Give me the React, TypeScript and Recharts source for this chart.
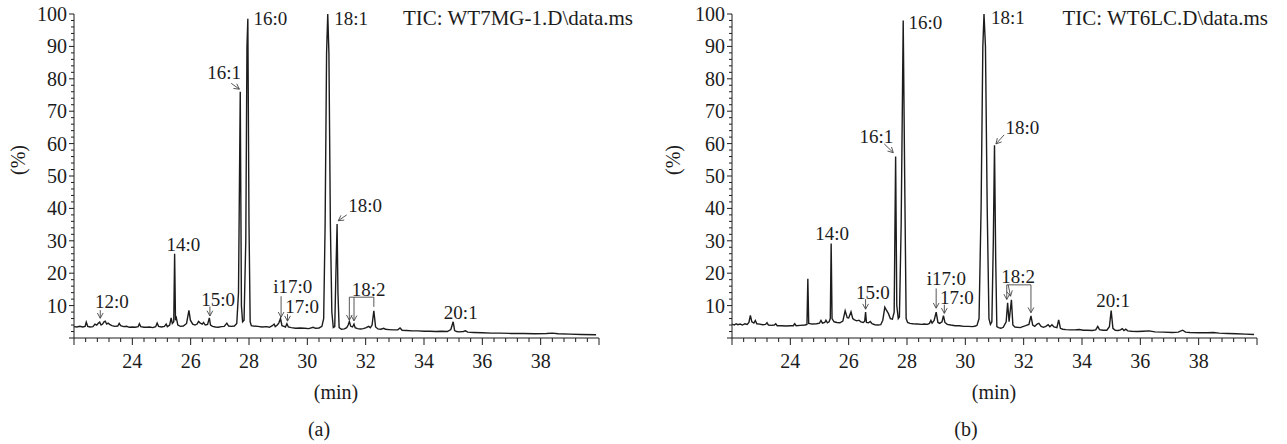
import React from 'react';
import { LineChart, Line, XAxis, YAxis, ReferenceLine, ReferenceDot } from 'recharts';

const FONT = '"Liberation Serif", "DejaVu Serif", "Noto Serif", "Nimbus Roman", "FreeSerif", Times, serif';
const INK = '#1c1c1c';

// (a) TIC: WT7MG-1.D — [retention time (min), abundance (%)]
const traceA: [number, number][] = [
  [22.0, 3.5], [22.1, 3.4], [22.2, 3.6], [22.3, 3.4], [22.38, 3.6], [22.42, 4.9], [22.47, 3.6], [22.55, 3.4],
  [22.65, 3.5], [22.72, 4.3], [22.78, 4.0], [22.84, 4.6], [22.88, 4.9], [22.93, 4.0], [22.98, 4.3], [23.03, 5.0],
  [23.07, 5.2], [23.12, 4.3], [23.17, 4.6], [23.22, 4.2], [23.3, 3.8], [23.4, 3.6], [23.5, 3.7], [23.55, 4.5],
  [23.6, 3.8], [23.7, 3.5], [23.8, 3.6], [23.9, 3.3], [24.0, 3.4], [24.1, 3.3], [24.2, 3.5], [24.24, 4.4],
  [24.29, 3.5], [24.4, 3.3], [24.5, 3.3], [24.6, 3.4], [24.7, 3.2], [24.8, 3.5], [24.85, 4.6], [24.9, 3.6],
  [25.0, 3.4], [25.1, 3.6], [25.16, 4.3], [25.2, 3.5], [25.28, 4.0], [25.33, 6.2], [25.37, 4.5], [25.42, 5.0],
  [25.45, 26], [25.48, 5.5], [25.51, 6.2], [25.56, 4.0], [25.65, 3.6], [25.75, 3.7], [25.86, 4.5], [25.94, 8.5],
  [25.99, 5.5], [26.07, 4.3], [26.15, 4.0], [26.22, 4.3], [26.27, 5.1], [26.33, 4.6], [26.4, 4.3], [26.44, 4.8],
  [26.5, 4.0], [26.58, 4.2], [26.64, 6.2], [26.68, 4.0], [26.75, 3.6], [26.85, 3.4], [26.95, 3.3], [27.05, 3.5],
  [27.15, 3.6], [27.24, 4.6], [27.3, 3.7], [27.4, 3.6], [27.5, 3.7], [27.58, 4.5], [27.64, 14], [27.7, 76],
  [27.74, 10], [27.78, 5], [27.83, 5.5], [27.89, 30], [27.93, 90], [27.96, 98.5], [28.0, 35], [28.04, 5],
  [28.08, 3.8], [28.15, 3.7], [28.3, 3.6], [28.45, 3.4], [28.6, 3.5], [28.7, 3.3], [28.8, 3.8], [28.86, 4.3],
  [28.9, 3.5], [28.97, 4.0], [29.02, 4.6], [29.08, 6.0], [29.13, 3.8], [29.2, 3.6], [29.25, 3.4], [29.3, 4.4],
  [29.35, 3.4], [29.45, 3.2], [29.6, 3.0], [29.75, 3.1], [29.9, 3.0], [30.05, 2.9], [30.2, 3.3], [30.28, 3.0],
  [30.4, 3.1], [30.5, 3.6], [30.56, 6], [30.61, 35], [30.66, 88], [30.7, 100], [30.74, 88], [30.79, 35],
  [30.84, 8], [30.89, 3.2], [30.94, 3.5], [30.98, 20], [31.02, 35.2], [31.05, 14], [31.09, 3.2], [31.17, 2.7],
  [31.27, 2.8], [31.35, 3.2], [31.4, 4.0], [31.44, 5.1], [31.49, 3.6], [31.55, 3.4], [31.6, 4.3], [31.64, 3.2],
  [31.72, 2.9], [31.82, 2.8], [31.92, 2.9], [32.02, 3.2], [32.1, 3.6], [32.16, 3.2], [32.22, 4.0], [32.28, 8.4],
  [32.34, 3.4], [32.42, 2.8], [32.52, 2.7], [32.62, 3.0], [32.68, 2.7], [32.8, 2.6], [32.95, 2.5], [33.1, 2.5],
  [33.18, 3.1], [33.25, 2.4], [33.4, 2.3], [33.6, 2.2], [33.8, 2.2], [34.0, 2.1], [34.2, 2.1], [34.4, 2.0],
  [34.6, 2.1], [34.8, 2.0], [34.92, 2.6], [35.0, 5.0], [35.05, 2.3], [35.12, 2.0], [35.2, 1.9], [35.35, 2.0],
  [35.42, 2.2], [35.5, 1.8], [35.7, 1.7], [36.0, 1.6], [36.3, 1.5], [36.6, 1.5], [37.0, 1.4], [37.4, 1.4],
  [37.8, 1.3], [38.2, 1.4], [38.4, 1.5], [38.6, 1.3], [39.0, 1.2], [39.4, 1.1], [39.9, 1.0],
];

// (b) TIC: WT6LC.D
const traceB: [number, number][] = [
  [22.0, 4.3], [22.08, 4.0], [22.14, 4.4], [22.2, 4.1], [22.28, 4.3], [22.36, 4.0], [22.44, 4.4], [22.52, 4.2],
  [22.58, 4.8], [22.63, 7.0], [22.68, 5.0], [22.75, 4.6], [22.8, 5.4], [22.85, 4.4], [22.95, 4.3], [23.05, 4.1],
  [23.15, 4.2], [23.2, 4.7], [23.25, 4.0], [23.35, 3.9], [23.45, 4.0], [23.5, 4.4], [23.55, 3.8], [23.7, 3.8],
  [23.85, 3.7], [24.0, 3.8], [24.1, 3.8], [24.15, 4.4], [24.2, 3.8], [24.35, 3.9], [24.5, 4.0], [24.57, 4.2],
  [24.6, 18.3], [24.63, 4.5], [24.75, 4.3], [24.9, 4.4], [25.0, 4.6], [25.05, 5.4], [25.1, 4.6], [25.18, 4.8],
  [25.22, 5.5], [25.27, 4.7], [25.33, 5.0], [25.37, 6], [25.4, 29.2], [25.43, 6], [25.5, 5.0], [25.6, 4.8],
  [25.7, 4.7], [25.8, 5.2], [25.88, 8.4], [25.95, 6.3], [26.0, 6.2], [26.08, 8.1], [26.14, 6.0], [26.2, 5.6],
  [26.28, 5.3], [26.35, 5.5], [26.42, 5.0], [26.5, 4.8], [26.55, 5.2], [26.58, 8.0], [26.61, 4.8], [26.68, 4.7],
  [26.74, 5.1], [26.8, 4.4], [26.9, 4.1], [27.0, 4.0], [27.1, 4.1], [27.17, 5.5], [27.24, 9.5], [27.3, 8.5],
  [27.36, 7.6], [27.43, 6.0], [27.5, 5.8], [27.56, 8], [27.61, 56], [27.65, 10], [27.7, 6.0], [27.74, 6.5],
  [27.8, 35], [27.87, 98], [27.92, 50], [27.97, 6], [28.02, 4.8], [28.1, 4.5], [28.2, 4.4], [28.35, 4.3],
  [28.5, 4.2], [28.6, 4.3], [28.7, 4.2], [28.77, 4.5], [28.82, 5.4], [28.86, 4.6], [28.93, 5.4], [29.0, 8.0],
  [29.06, 4.8], [29.12, 4.5], [29.2, 5.0], [29.25, 6.9], [29.3, 4.8], [29.38, 4.2], [29.5, 4.0], [29.65, 3.8],
  [29.8, 3.8], [29.95, 3.6], [30.1, 3.6], [30.25, 3.5], [30.35, 3.7], [30.4, 3.9], [30.47, 6], [30.54, 40],
  [30.6, 90], [30.64, 100], [30.69, 90], [30.75, 40], [30.81, 6], [30.86, 4.2], [30.91, 5], [30.96, 30],
  [31.0, 59.5], [31.04, 25], [31.08, 3.5], [31.14, 3.2], [31.22, 3.0], [31.3, 3.3], [31.4, 5], [31.45, 10.9],
  [31.5, 5.0], [31.58, 11.8], [31.63, 4.0], [31.7, 3.4], [31.78, 3.3], [31.88, 3.2], [31.97, 3.5], [32.07, 3.8],
  [32.18, 4.2], [32.25, 6.8], [32.31, 4.0], [32.38, 3.6], [32.46, 4.3], [32.52, 4.5], [32.6, 3.6], [32.68, 3.3],
  [32.76, 3.6], [32.84, 4.1], [32.9, 3.5], [32.97, 4.1], [33.04, 3.4], [33.14, 3.2], [33.2, 5.6], [33.26, 3.0],
  [33.34, 2.7], [33.45, 2.6], [33.6, 2.5], [33.75, 2.5], [33.9, 2.6], [34.05, 2.4], [34.2, 2.4], [34.35, 2.3],
  [34.47, 2.5], [34.54, 3.6], [34.6, 2.6], [34.72, 2.4], [34.85, 2.4], [34.94, 3.5], [35.0, 8.5], [35.06, 3.0],
  [35.14, 2.4], [35.24, 2.3], [35.32, 2.5], [35.38, 2.9], [35.44, 2.3], [35.5, 2.7], [35.57, 2.2], [35.7, 2.1],
  [35.9, 2.0], [36.1, 2.1], [36.3, 2.2], [36.5, 1.9], [36.8, 1.8], [37.1, 1.7], [37.3, 1.8], [37.45, 2.4],
  [37.55, 1.8], [37.7, 1.7], [38.0, 1.6], [38.3, 1.6], [38.5, 1.7], [38.7, 1.5], [39.0, 1.4], [39.3, 1.3],
  [39.6, 1.2], [39.9, 1.1],
];

const minuteLabels = [24, 26, 28, 30, 32, 34, 36, 38];
const percentLabels = [10, 20, 30, 40, 50, 60, 70, 80, 90, 100];
// ruler ticks: every 0.4 min along x, every 2 % along y
const minuteTicks = Array.from({ length: 46 }, (_, i) => Math.round((22 + i * 0.4) * 10) / 10);
const percentTicks = Array.from({ length: 51 }, (_, i) => i * 2);

type Tag = { text: string; x: number; y: number; anchor?: 'start' | 'middle' | 'end' };
type Pointer = { from: [number, number]; to: [number, number]; head?: boolean };

// peak labels, in data units
const tagsA: Tag[] = [
  { text: '16:0', x: 28.15, y: 98.8, anchor: 'start' },
  { text: '18:1', x: 30.92, y: 98.8, anchor: 'start' },
  { text: '16:1', x: 27.15, y: 82 },
  { text: '18:0', x: 31.4, y: 41, anchor: 'start' },
  { text: '14:0', x: 25.75, y: 28.9 },
  { text: '12:0', x: 23.3, y: 11.2 },
  { text: '15:0', x: 26.94, y: 11.9 },
  { text: 'i17:0', x: 29.5, y: 15.8 },
  { text: '17:0', x: 29.82, y: 9.9 },
  { text: '18:2', x: 32.1, y: 15 },
  { text: '20:1', x: 35.26, y: 7.9 },
];

const pointersA: Pointer[] = [
  { from: [27.39, 78.6], to: [27.67, 76.8] },
  { from: [31.35, 38], to: [31.06, 36.2] },
  { from: [22.9, 8.6], to: [22.9, 6.1] },
  { from: [26.66, 9.7], to: [26.66, 6.8] },
  { from: [29.1, 12.9], to: [29.1, 6.4] },
  { from: [29.32, 7.4], to: [29.32, 5.2] },
  { from: [31.44, 12.6], to: [32.28, 12.6], head: false },
  { from: [31.44, 12.6], to: [31.44, 5.5] },
  { from: [31.6, 12.6], to: [31.6, 5.3] },
  { from: [32.28, 12.6], to: [32.28, 9.6], head: false },
];

const tagsB: Tag[] = [
  { text: '16:0', x: 28.05, y: 97.3, anchor: 'start' },
  { text: '18:1', x: 30.88, y: 99, anchor: 'start' },
  { text: '16:1', x: 26.95, y: 62.1 },
  { text: '18:0', x: 31.38, y: 64.9, anchor: 'start' },
  { text: '14:0', x: 25.43, y: 32.3 },
  { text: '15:0', x: 26.83, y: 14.1 },
  { text: 'i17:0', x: 29.35, y: 18.3 },
  { text: '17:0', x: 29.71, y: 12.6 },
  { text: '18:2', x: 31.81, y: 18.9 },
  { text: '20:1', x: 35.07, y: 11.7 },
];

const pointersB: Pointer[] = [
  { from: [27.22, 59.9], to: [27.53, 57.2] },
  { from: [31.33, 62.7], to: [31.05, 59.9] },
  { from: [26.58, 12], to: [26.58, 8.9] },
  { from: [29.0, 15.3], to: [29.0, 9.2] },
  { from: [29.28, 10.3], to: [29.28, 7.6] },
  { from: [31.42, 16.4], to: [32.25, 16.4], head: false },
  { from: [31.42, 16.4], to: [31.42, 11.9] },
  { from: [31.47, 16.4], to: [31.55, 12.9] },
  { from: [32.25, 16.4], to: [32.25, 7.8] },
];

const MinuteTick = (p: any) => {
  const v = p.payload.value;
  const major = Math.abs(v - Math.round(v)) < 1e-6 && Math.round(v) % 2 === 0;
  const labelled = major && minuteLabels.includes(Math.round(v));
  return (
    <g>
      <line x1={p.x} y1={p.y} x2={p.x} y2={p.y + (major ? 7 : 4)} stroke={INK} strokeWidth={1} />
      {labelled && (
        <text x={p.x} y={p.y + 23} dy="0.35em" textAnchor="middle" fontSize={20} fontFamily={FONT} fill={INK}>
          {Math.round(v)}
        </text>
      )}
    </g>
  );
};

const PercentTick = (p: any) => {
  const v = p.payload.value;
  const major = v % 10 === 0;
  return (
    <g>
      <line x1={p.x} y1={p.y} x2={p.x - (major ? 5 : 3)} y2={p.y} stroke={INK} strokeWidth={1} />
      {major && percentLabels.includes(v) && (
        <text x={p.x - 7} y={p.y} dy="0.35em" textAnchor="end" fontSize={20} fontFamily={FONT} fill={INK}>
          {v}
        </text>
      )}
    </g>
  );
};

const arrowShape = (head: boolean) => (p: any) => {
  const { x1, y1, x2, y2 } = p;
  const ang = Math.atan2(y2 - y1, x2 - x1);
  const len = 6;
  const spread = 0.5;
  const ax = x2 - len * Math.cos(ang - spread);
  const ay = y2 - len * Math.sin(ang - spread);
  const bx = x2 - len * Math.cos(ang + spread);
  const by = y2 - len * Math.sin(ang + spread);
  return (
    <g>
      <line x1={x1} y1={y1} x2={x2} y2={y2} stroke="#444" strokeWidth={0.9} />
      {head && <polyline points={`${ax},${ay} ${x2},${y2} ${bx},${by}`} fill="none" stroke="#444" strokeWidth={0.9} />}
    </g>
  );
};

const tagShape = (t: Tag) => (p: any) => (
  <text x={p.cx} y={p.cy} dy="0.35em" textAnchor={t.anchor ?? 'middle'} fontSize={19} fontFamily={FONT} fill={INK}>
    {t.text}
  </text>
);

interface PanelProps {
  trace: [number, number][];
  tags: Tag[];
  pointers: Pointer[];
  width: number;
  marginLeft: number;
  marginRight: number;
}

const Chromatogram = ({ trace, tags, pointers, width, marginLeft, marginRight }: PanelProps) => {
  const data = trace.map(([min, pct]) => ({ min, pct }));
  return (
    <LineChart
      width={width}
      height={444}
      data={data}
      margin={{ top: 14, right: marginRight, bottom: 66, left: marginLeft }}
    >
      <XAxis
        dataKey="min"
        type="number"
        domain={[22, 40]}
        ticks={minuteTicks}
        interval={0}
        tickSize={0}
        tickMargin={0}
        tick={(p: any) => <MinuteTick {...p} />}
        axisLine={{ stroke: INK }}
        height={40}
        allowDataOverflow
      />
      <YAxis
        type="number"
        domain={[0, 100]}
        ticks={percentTicks}
        interval={0}
        tickSize={0}
        tickMargin={0}
        tick={(p: any) => <PercentTick {...p} />}
        axisLine={{ stroke: INK }}
        width={60}
        allowDataOverflow
      />
      <Line dataKey="pct" type="linear" stroke={INK} strokeWidth={1.4} dot={false} isAnimationActive={false} />
      {pointers.map((a, i) => (
        <ReferenceLine
          key={`ptr-${i}`}
          segment={[{ x: a.from[0], y: a.from[1] }, { x: a.to[0], y: a.to[1] }]}
          shape={arrowShape(a.head !== false)}
        />
      ))}
      {tags.map((t, i) => (
        <ReferenceDot key={`tag-${i}`} x={t.x} y={t.y} r={0} ifOverflow="visible" shape={tagShape(t)} />
      ))}
    </LineChart>
  );
};

const abs = (left: number, top: number): React.CSSProperties => ({
  position: 'absolute',
  left,
  top,
  whiteSpace: 'nowrap',
  lineHeight: 1,
});

export default function App() {
  return (
    <div style={{ position: 'absolute', left: 0, top: 0, width: 1287, height: 444, background: '#fff', fontFamily: FONT, color: INK, fontSize: 20 }}>
      <div style={{ position: 'absolute', left: 0, top: 0 }}>
        <Chromatogram trace={traceA} tags={tagsA} pointers={pointersA} width={640} marginLeft={14} marginRight={41} />
      </div>
      <div style={{ position: 'absolute', left: 640, top: 0 }}>
        <Chromatogram trace={traceB} tags={tagsB} pointers={pointersB} width={647} marginLeft={32} marginRight={30} />
      </div>

      {/* run titles */}
      <div style={{ ...abs(0, 8), width: 633, textAlign: 'right', fontSize: 21 }}>TIC: WT7MG-1.D\data.ms</div>
      <div style={{ ...abs(640, 8), width: 628, textAlign: 'right', fontSize: 21 }}>TIC: WT6LC.D\data.ms</div>

      {/* axis titles */}
      <div style={{ ...abs(18, 160), transform: 'translate(-50%, -50%) rotate(-90deg)' }}>(%)</div>
      <div style={{ ...abs(673, 160), transform: 'translate(-50%, -50%) rotate(-90deg)' }}>(%)</div>
      <div style={{ ...abs(336, 392), transform: 'translate(-50%, -50%)' }}>(min)</div>
      <div style={{ ...abs(994, 392), transform: 'translate(-50%, -50%)' }}>(min)</div>

      {/* panel captions */}
      <div style={{ ...abs(319, 429), transform: 'translate(-50%, -50%)' }}>(a)</div>
      <div style={{ ...abs(966, 429), transform: 'translate(-50%, -50%)' }}>(b)</div>
    </div>
  );
}
